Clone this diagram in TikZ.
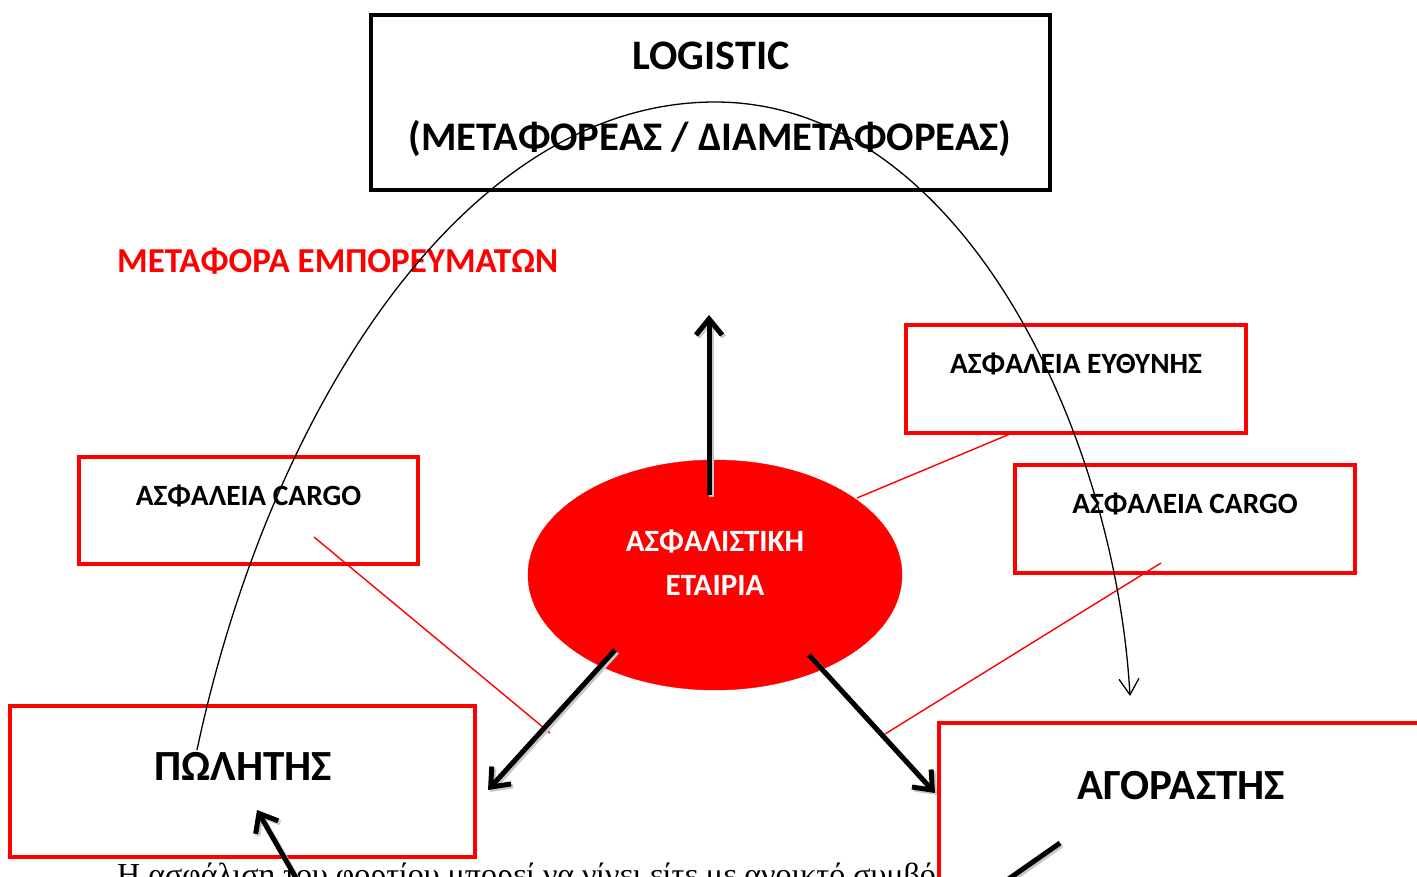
\documentclass[tikz,border=0pt]{standalone}
\usepackage{fontspec}
\setmainfont{Carlito}
\newfontfamily\bodyserif{Liberation Serif}
\usetikzlibrary{arrows.meta,shapes.geometric}
\definecolor{boxred}{RGB}{255,0,0}
\tikzset{
  blackbox/.style={draw=black, line width=4pt, fill=white, inner sep=0pt},
  redbox/.style={draw=boxred, line width=4pt, fill=white, inner sep=0pt},
  lbl/.style={font=\bfseries, inner sep=0pt, anchor=center},
  smalllbl/.style={lbl, font=\bfseries\fontsize{29.4}{34}\selectfont},
  biglbl/.style={lbl, font=\bfseries\fontsize{43}{48}\selectfont},
  thinred/.style={draw=boxred, line width=1.4pt},
  heavyarrow/.style={line width=5pt, -{Straight Barb[length=16pt,width=26pt]}},
  heavyline/.style={line width=5pt},
  heavyshade/.style={draw=black!22, line width=5pt},
  flowcurve/.style={line width=1.3pt, -{Straight Barb[length=16pt,width=20pt]}}
}
\newcommand\shadedarrow[3]{%
  \draw[heavyshade,#3,transform canvas={xshift=2pt,yshift=-2pt}] (#1) -- (#2);
  \draw[#3] (#1) -- (#2);}
\begin{document}
\begin{tikzpicture}[x=1pt,y=-1pt]
\useasboundingbox (0,0) rectangle (1417,877);
\clip (0,0) rectangle (1417,877);

% carrier box
\node[blackbox, minimum width=679pt, minimum height=175pt] (logistic) at (710.5,102.5) {};
\node[lbl, font=\bfseries\fontsize{42}{48}\selectfont] (logtitle) at (711,56) {LOGISTIC};
\node[lbl, font=\bfseries\fontsize{40.6}{46}\selectfont] (logsub) at (710,139) {(ΜΕΤΑΦΟΡΕΑΣ / ΔΙΑΜΕΤΑΦΟΡΕΑΣ)};

% transport label
\node[lbl, text=boxred, font=\bfseries\fontsize{35}{40}\selectfont, anchor=west] (transport) at (117,261) {ΜΕΤΑΦΟΡΑ ΕΜΠΟΡΕΥΜΑΤΩΝ};

% insurance boxes
\node[redbox, minimum width=340pt, minimum height=108pt] (liab) at (1076,379) {};
\node[smalllbl] (liabtxt) at (1076,364) {ΑΣΦΑΛΕΙΑ ΕΥΘΥΝΗΣ};
\node[redbox, minimum width=340pt, minimum height=108pt] (cargoR) at (1185,519) {};
\node[smalllbl] (cargoRtxt) at (1185,504) {ΑΣΦΑΛΕΙΑ CARGO};
\node[redbox, minimum width=339pt, minimum height=107pt] (cargoL) at (248.5,510.5) {};
\node[smalllbl] (cargoLtxt) at (248.5,496) {ΑΣΦΑΛΕΙΑ CARGO};

% insurer
\node[ellipse, fill=boxred, draw=boxred, minimum width=374pt, minimum height=230pt, inner sep=0pt] (insurer) at (715,575) {};
\node[lbl, text=white, font=\bfseries\fontsize{31}{35}\selectfont] (insurertxt1) at (715,541) {ΑΣΦΑΛΙΣΤΙΚΗ};
\node[lbl, text=white, font=\bfseries\fontsize{31}{35}\selectfont] (insurertxt2) at (715,585) {ΕΤΑΙΡΙΑ};

% thin red links
\coordinate (lkA1) at (314,537);
\coordinate (lkA2) at (550,733);
\coordinate (lkB1) at (857,498);
\coordinate (lkB2) at (1010,434);
\coordinate (lkC1) at (1161,563);
\coordinate (lkC2) at (885,734);
\draw[thinred] (lkA1) -- (lkA2);
\draw[thinred] (lkB1) -- (lkB2);
\draw[thinred] (lkC1) -- (lkC2);

% seller and buyer
\node[redbox, minimum width=465pt, minimum height=151pt] (seller) at (242.5,781.5) {};
\node[biglbl] (sellertxt) at (243,766) {ΠΩΛΗΤΗΣ};
\node[font=\bodyserif\fontsize{32}{36}\selectfont, anchor=base west, inner sep=0pt] (note) at (117,885) {Η ασφάλιση του φορτίου μπορεί να γίνει είτε με ανοικτό συμβό};
\node[redbox, minimum width=500pt, minimum height=200pt, anchor=north west] (buyer) at (937,721) {};
\node[biglbl] (buyertxt) at (1181,786) {ΑΓΟΡΑΣΤΗΣ};

% heavy arrows
\coordinate (upS) at (709,495);
\coordinate (upE) at (709,315);
\coordinate (dlS) at (615,650);
\coordinate (dlE) at (488,790);
\coordinate (drS) at (809,655);
\coordinate (drE) at (935,793);
\coordinate (slS) at (300,885);
\coordinate (slE) at (257,810);
\coordinate (byS) at (1060,843);
\coordinate (byE) at (1000,885);
\shadedarrow{upS}{upE}{heavyarrow}
\shadedarrow{dlS}{dlE}{heavyarrow}
\shadedarrow{drS}{drE}{heavyarrow}
\shadedarrow{slS}{slE}{heavyarrow}
\shadedarrow{byS}{byE}{heavyline}

% goods flow curve
\coordinate (flowS) at (197,750);
\coordinate (flowT) at (715,102);
\coordinate (flowE) at (1130,696);
\draw[flowcurve] (flowS) .. controls (268,415) and (462,102) .. (flowT)
  .. controls (960,102) and (1115,430) .. (flowE);
\end{tikzpicture}
\end{document}
